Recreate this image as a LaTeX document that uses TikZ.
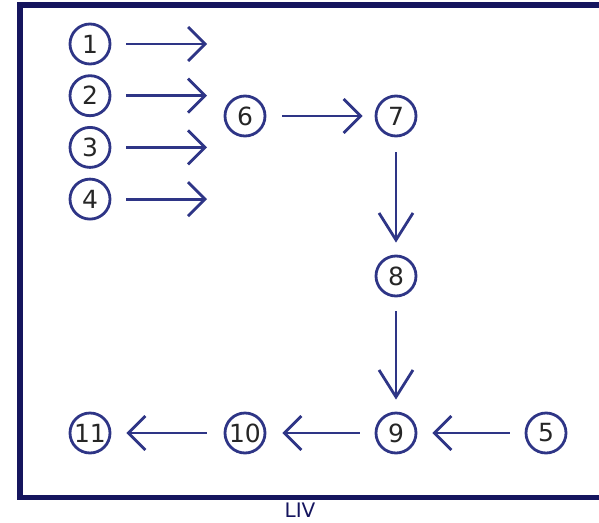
\documentclass[tikz,border=0pt]{standalone}
\usepackage{fontspec}
\setmainfont{DejaVu Sans}
\usetikzlibrary{arrows.meta, positioning}
\usepackage{xcolor}
\definecolor{numblue}{HTML}{2E3586}
\definecolor{framenavy}{HTML}{15155E}
\tikzstyle{numnode} = [circle, draw=numblue, line width=2.8pt, minimum size=40pt,
    inner sep=0pt, text=black!85, font=\fontsize{25}{27}\selectfont]
\tikzstyle{harrow} = [numblue, line width=2.8pt, -{Straight Barb[length=17pt, width=34pt]}]
\tikzstyle{varrow} = [numblue, line width=2.8pt, -{Straight Barb[length=27pt, width=34pt]}]

\begin{document}
\begin{tikzpicture}[x=1pt, y=-1pt, node distance=51.7pt, on grid]
\useasboundingbox (0,0) rectangle (599,522);
\clip (0,0) rectangle (599,522);
\draw[framenavy, line width=5.5pt] (20,5) rectangle (640,497.5);
% left column
\node (n1) [numnode] at (90,44) {1};
\node (n2) [numnode, below=of n1] {2};
\node (n3) [numnode, below=of n2] {3};
\node (n4) [numnode, below=of n3] {4};
\coordinate[right=117pt of n1] (t1);
\coordinate[right=117pt of n2] (t2);
\coordinate[right=117pt of n3] (t3);
\coordinate[right=117pt of n4] (t4);
% path
\node (n6) [numnode] at (245,116) {6};
\node (n7) [numnode, right=151pt of n6] {7};
\node (n8) [numnode, below=160pt of n7] {8};
\node (n9) [numnode, below=157pt of n8] {9};
\node (n5) [numnode, right=150pt of n9] {5};
\node (n10) [numnode, left=151pt of n9] {10};
\node (n11) [numnode, left=155pt of n10] {11};
\node (cap) [text=framenavy, font=\fontsize{20}{22}\selectfont, inner sep=0pt] at (300,510.5) {LIV};
% arrows
\draw[harrow, shorten <=15pt] (n1) -- (t1);
\draw[harrow, shorten <=15pt] (n2) -- (t2);
\draw[harrow, shorten <=15pt] (n3) -- (t3);
\draw[harrow, shorten <=15pt] (n4) -- (t4);
\draw[harrow, shorten <=16pt, shorten >=12pt] (n6) -- (n7);
\draw[varrow, shorten <=15pt, shorten >=12pt] (n7) -- (n8);
\draw[varrow, shorten <=14pt, shorten >=12pt] (n8) -- (n9);
\draw[harrow, shorten <=15pt, shorten >=15pt] (n5) -- (n9);
\draw[harrow, shorten <=15pt, shorten >=16pt] (n9) -- (n10);
\draw[harrow, shorten <=17pt, shorten >=15pt] (n10) -- (n11);
\end{tikzpicture}
\end{document}
